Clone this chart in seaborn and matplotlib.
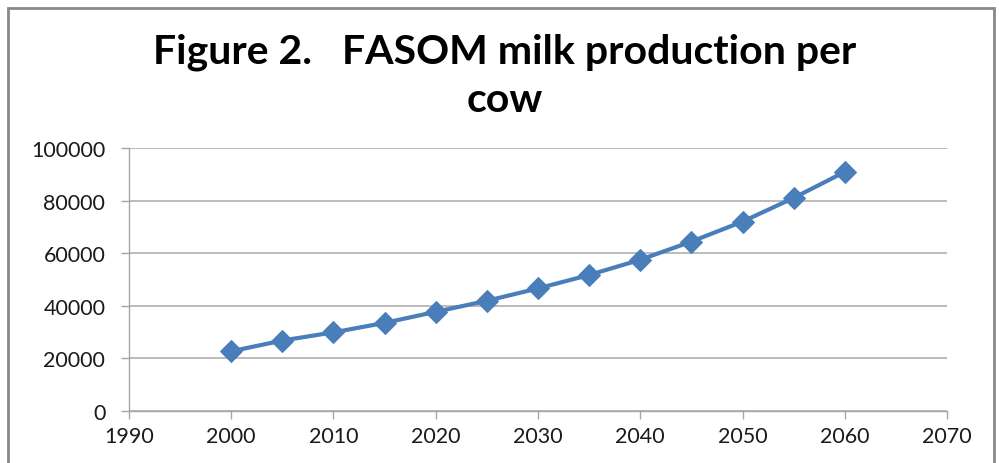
import matplotlib
matplotlib.use("Agg")
import matplotlib.pyplot as plt
import seaborn as sns
import pandas as pd
from matplotlib.patches import Rectangle

years = [2000, 2005, 2010, 2015, 2020, 2025, 2030, 2035, 2040, 2045, 2050, 2055, 2060]
milk_per_cow = [22700, 26800, 29900, 33500, 37700, 41900, 46600, 51700, 57500, 64400, 72000, 81000, 90900]
x_ticks = [1990, 2000, 2010, 2020, 2030, 2040, 2050, 2060, 2070]
y_ticks = [0, 20000, 40000, 60000, 80000, 100000]
title_line1 = "Figure 2.   FASOM milk production per"
title_line2 = "cow"

sns.set_theme(style="white")
font = ["Lato", "DejaVu Sans"]
plt.rcParams["font.family"] = font

df = pd.DataFrame({"year": years, "value": milk_per_cow})

fig = plt.figure(figsize=(9.99, 4.64), dpi=100)
ax = fig.add_axes([0.129, 0.112, 0.819, 0.567])

sns.lineplot(data=df, x="year", y="value", ax=ax, color="#4A7EBB", linewidth=3,
             marker="D", markersize=11, markeredgecolor="#4A7EBB")

ax.set_xlim(1990, 2070)
ax.set_ylim(0, 100000)
ax.set_xticks(x_ticks)
ax.set_yticks(y_ticks)
ax.set_xticklabels([str(t) for t in x_ticks], fontsize=15.5)
ax.set_yticklabels([str(t) for t in y_ticks], fontsize=15.5)
ax.set_xlabel("")
ax.set_ylabel("")
ax.yaxis.grid(True, color="#B5B5B5", linewidth=1.3)
ax.xaxis.grid(False)
for s in ["top", "right"]:
    ax.spines[s].set_visible(False)
for s in ["left", "bottom"]:
    ax.spines[s].set_color("#A6A6A6")
    ax.spines[s].set_linewidth(1)
ax.tick_params(axis="both", which="both", direction="out", length=6, width=1,
               color="#A6A6A6", labelcolor="#1a1a1a")
ax.tick_params(axis="y", left=True, pad=11)
ax.tick_params(axis="x", bottom=True, pad=5)

fig.text(0.505, 0.864, title_line1, ha="center", va="baseline",
         fontsize=29.5, fontweight="bold", family=font, color="black")
fig.text(0.505, 0.758, title_line2, ha="center", va="baseline",
         fontsize=29.5, fontweight="bold", family=font, color="black")

fig.patches.append(Rectangle((0.008, -0.05), 0.987, 1.03, transform=fig.transFigure,
                             fill=False, edgecolor="#888888", linewidth=2))

fig.savefig("out.png", dpi=100)
